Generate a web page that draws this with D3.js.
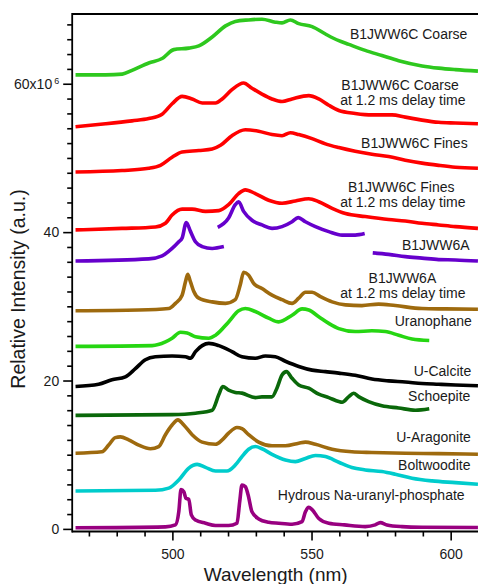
<!DOCTYPE html>
<html>
<head>
<meta charset="utf-8">
<script src="https://cdn.jsdelivr.net/npm/d3@7"></script>
<style>
  body { margin: 0; background: #fff; }
  svg { display: block; }
  text { font-family: Arial, "Liberation Sans", Helvetica, sans-serif; fill: #1a1a1a; }
</style>
</head>
<body>
<svg id="chart" width="478" height="584"></svg>
<script>
// Luminescence spectra, [wavelength (nm), relative intensity (x10^6)], offset vertically per sample.
const coarse = [[465.2,61.2],[476,61.2],[482,61.3],[485.5,61.8],[491.5,62.8],[496.3,63.4],[500.5,64.6],[505.9,64.8],[509.5,65.1],[514.3,66.3],[519.1,67.8],[522.6,68.4],[527.4,68.6],[532.2,68.7],[537.0,68.3],[539.4,68.2],[542.4,68.6],[545.4,68.1],[550.2,67.7],[555.0,66.7],[559.8,65.8],[563.4,65.3],[569.3,64.5],[575.3,63.8],[581.3,63.1],[589.7,62.4],[595.7,62.1],[601.7,61.9],[609.8,61.7]];
const coarseDelay = [[465.2,54.2],[476,54.6],[485.5,55.0],[491.5,55.3],[496.3,55.9],[499.9,57.3],[503.5,58.3],[507.1,57.95],[510.7,57.4],[515.5,57.4],[517.9,57.95],[521.4,59.2],[525.6,60.1],[528.6,59.4],[532.2,58.6],[535.8,57.95],[539.4,57.6],[543.0,57.95],[549.0,58.4],[552.6,57.95],[556.2,57.1],[559.8,56.4],[565.7,56.0],[571.7,55.8],[578.9,55.8],[583.7,55.5],[589.7,55.1],[595.7,54.8],[601.7,54.7],[609.8,54.6]];
const fines = [[465.2,48.1],[481.9,48.3],[491.5,48.6],[495.7,49.0],[499.9,50.1],[503.5,50.8],[509.5,51.0],[514.3,51.2],[517.3,51.7],[521.4,53.0],[526.2,53.8],[531.0,53.6],[535.8,53.15],[539.4,53.0],[542.4,53.4],[545.4,53.15],[550.2,52.6],[555.0,51.9],[559.8,51.4],[565.7,50.9],[571.7,50.5],[577.7,50.2],[583.7,49.7],[589.7,49.3],[595.7,49.0],[601.7,48.75],[609.8,48.6]];
const finesDelay = [[465.2,40.3],[481.9,40.5],[493.9,40.7],[497.5,41.2],[499.9,42.3],[503.5,43.1],[507.1,43.1],[511.9,42.8],[516.7,42.9],[520.2,43.7],[523.8,45.2],[526.2,45.7],[529.8,45.2],[534.6,44.3],[539.4,43.9],[544.2,44.2],[549.0,44.5],[552.6,44.1],[557.4,43.2],[562.2,42.5],[569.3,42.1],[577.7,41.7],[583.7,41.5],[589.7,41.2],[595.7,40.97],[601.7,40.74],[609.8,40.5]];
// B1JWW6A was recorded in three separate windows
const b1jww6aLow = [[465.2,36.1],[491.5,36.4],[496.3,36.8],[499.9,37.8],[502.3,38.7],[503.5,39.2],[505.0,41.3],[506.5,40.1],[508.3,38.7],[510.7,38.05],[514.3,37.8],[518.5,38.05]];
const b1jww6aMid = [[516.3,40.65],[520.2,41.9],[522.6,43.7],[523.8,44.1],[525.6,42.8],[528.6,41.6],[532.2,40.97],[535.8,40.5],[539.4,40.74],[543.0,41.4],[545.2,41.96],[547.8,41.4],[551.4,40.74],[556.2,40.07],[561.0,39.6],[565.7,39.6],[569.1,39.8]];
const b1jww6aHigh = [[572.0,37.2],[577.7,37.0],[583.7,36.7],[589.7,36.5],[595.7,36.3],[601.7,36.25],[609.8,36.1]];
const b1jww6aDelay = [[465.2,29.4],[487.9,29.5],[498.7,29.7],[501.1,30.4],[503.5,31.5],[504.7,33.3],[505.5,34.3],[506.5,33.3],[507.7,32.0],[509.5,31.1],[514.3,30.6],[519.1,30.4],[522.6,30.9],[524.4,32.9],[525.6,34.6],[527.4,34.2],[529.2,33.1],[532.2,32.4],[535.8,31.5],[539.4,30.9],[543.0,30.4],[545.4,31.1],[547.8,31.9],[550.2,31.9],[553.2,31.3],[557.4,30.6],[562.2,30.2],[568.1,30.1],[574.1,30.3],[580.1,30.1],[589.7,29.7],[598.1,29.65],[609.8,29.6]];
const uranophane = [[465.2,24.6],[492.7,24.7],[497.5,25.2],[499.9,25.7],[502.9,26.5],[505.3,26.4],[508.3,25.9],[513.1,25.7],[515.5,26.1],[520.2,27.9],[523.8,29.4],[526.2,29.7],[529.8,29.3],[534.6,28.4],[538.2,27.9],[543.0,28.8],[546.6,29.65],[549.0,29.5],[552.6,28.6],[556.2,27.7],[559.8,27.0],[565.7,26.6],[571.7,26.7],[576.5,26.6],[581.3,26.1],[586.1,25.6],[592.3,25.4]];
const uCalcite = [[465.2,19.2],[473.5,19.5],[478.3,20.1],[483.1,20.5],[486.7,21.6],[490.3,22.8],[493.9,23.2],[499.9,23.3],[504.7,23.2],[506.5,23.0],[508.3,23.9],[513.1,25.0],[516.7,24.7],[521.4,23.9],[525.0,23.2],[529.8,23.0],[533.4,23.3],[537.0,23.2],[540.6,22.6],[545.4,21.9],[550.2,21.4],[555.0,21.2],[559.8,21.0],[565.7,20.7],[571.7,20.2],[577.7,19.95],[583.7,19.8],[589.7,19.6],[595.7,19.5],[601.7,19.4],[609.8,19.3]];
const schoepite = [[465.2,15.3],[499.9,15.4],[508.3,15.6],[514.3,16.0],[516.7,18.1],[518.1,19.2],[520.2,18.7],[522.6,18.4],[525.0,18.3],[529.8,17.7],[532.2,17.8],[535.8,17.8],[537.6,19.0],[539.4,20.75],[541.0,21.2],[543.0,20.3],[545.4,19.4],[549.0,18.96],[552.6,18.15],[556.2,17.7],[559.8,17.16],[561.0,17.07],[563.4,17.83],[565.1,18.28],[566.9,17.83],[570.5,17.16],[575.3,16.6],[581.3,16.3],[587.3,16.0],[592.3,16.2]];
const uAragonite = [[465.2,10.2],[474.7,10.4],[477.1,11.3],[479.5,12.3],[481.3,12.4],[484.3,12.0],[487.9,11.3],[492.1,10.8],[495.1,11.1],[497.5,12.7],[499.9,14.0],[502.0,14.7],[504.1,14.0],[507.1,12.7],[510.7,11.7],[515.5,11.4],[517.9,12.0],[520.2,12.9],[523.2,13.66],[525.0,13.5],[527.4,12.7],[531.0,11.7],[535.8,11.2],[540.6,11.2],[545.4,11.55],[547.8,11.7],[551.4,11.4],[557.4,10.74],[564.5,10.4],[571.7,10.3],[583.7,10.2],[595.7,10.15],[609.8,10.06]];
const boltwoodite = [[465.2,5.1],[493.9,5.2],[498.7,5.5],[502.3,6.6],[505.9,8.2],[508.9,8.7],[511.9,8.3],[515.5,7.8],[519.6,7.8],[522.6,8.6],[525.0,9.75],[527.4,10.74],[529.8,11.1],[532.2,10.8],[535.8,10.06],[540.6,9.3],[544.2,9.07],[547.8,9.5],[551.4,9.9],[555.0,9.75],[559.8,8.98],[564.5,8.27],[569.3,7.95],[575.3,7.73],[580.1,7.37],[586.1,6.83],[593.3,6.47],[601.7,6.24],[609.8,6.02]];
const naUranylPhosphate = [[465.2,0.15],[497.5,0.27],[501.1,0.54],[502.3,2.3],[503.1,5.3],[504.1,5.0],[504.9,4.1],[505.9,4.0],[506.8,1.9],[508.3,1.2],[511.9,0.76],[515.5,0.45],[520.2,0.45],[523.2,0.76],[524.2,3.7],[525.0,5.9],[526.2,5.7],[527.2,4.6],[528.6,2.3],[531.0,1.35],[534.6,0.9],[538.2,0.76],[543.0,0.63],[546.6,0.99],[547.8,2.3],[549.0,2.9],[550.2,2.6],[552.6,1.4],[556.2,0.76],[561.8,0.54],[569.3,0.31],[572.9,0.54],[574.7,0.85],[577.1,0.54],[582.5,0.31],[589.7,0.22],[609.8,0.18]];

// Axis ticks
const xMajorTicks = [500, 550, 600];
const xMinorTicks = [470, 480, 490, 510, 520, 530, 540, 560, 570, 580, 590];
const yMajorTicks = [0, 20, 40, 60];
const yMinorTicks = d3.range(2, 69, 2).filter(v => v % 20 !== 0);

// Sample labels: lines of text anchored at (wavelength, intensity)
const sampleLabels = [
  { lines: ["B1JWW6C Coarse"], at: [[563.8, 66.0]] },
  { lines: ["B1JWW6C Coarse", "at 1.2 ms delay time"], at: [[560.7, 59.16], [560.3, 57.14]] },
  { lines: ["B1JWW6C Fines"], at: [[567.8, 51.35]] },
  { lines: ["B1JWW6C Fines", "at 1.2 ms delay time"], at: [[563.1, 45.42], [560.3, 43.4]] },
  { lines: ["B1JWW6A"], at: [[582.5, 37.6]] },
  { lines: ["B1JWW6A", "at 1.2 ms delay time"], at: [[570.5, 33.15], [560.3, 31.13]] },
  { lines: ["Uranophane"], at: [[579.9, 27.36]] },
  { lines: ["U-Calcite"], at: [[586.7, 20.62]] },
  { lines: ["Schoepite"], at: [[584.7, 17.25]] },
  { lines: ["U-Aragonite"], at: [[580.4, 11.66]] },
  { lines: ["Boltwoodite"], at: [[581.1, 7.95]] },
  { lines: ["Hydrous Na-uranyl-phosphate"], at: [[537.9, 3.91]] }
];

const series = [
  { segments: [coarse], color: "#2ec81e" },
  { segments: [coarseDelay], color: "#ff0000" },
  { segments: [fines], color: "#ff0000" },
  { segments: [finesDelay], color: "#ff0000" },
  { segments: [b1jww6aLow, b1jww6aMid, b1jww6aHigh], color: "#6600cc" },
  { segments: [b1jww6aDelay], color: "#9e6a0e" },
  { segments: [uranophane], color: "#26d612" },
  { segments: [uCalcite], color: "#000000" },
  { segments: [schoepite], color: "#0a680a" },
  { segments: [uAragonite], color: "#9e6a0e" },
  { segments: [boltwoodite], color: "#00cccc" },
  { segments: [naUranylPhosphate], color: "#980080" }
];

const svg = d3.select("#chart");
const W = 478;
const plotLeft = 72.2, plotTop = 14, plotBottom = 531.5;

const x = d3.scaleLinear().domain([464, 610]).range([plotLeft, 478.5]);
const y = d3.scaleLinear().domain([-0.35, 69.4]).range([plotBottom, plotTop]);

svg.append("defs").append("clipPath").attr("id", "plotClip")
  .append("rect").attr("x", plotLeft).attr("y", plotTop)
  .attr("width", W - plotLeft).attr("height", plotBottom - plotTop);

// Spectra
const line = d3.line().x(d => x(d[0])).y(d => y(d[1])).curve(d3.curveMonotoneX);
const curves = svg.append("g").attr("clip-path", "url(#plotClip)");
series.forEach(s => {
  s.segments.forEach(seg => {
    curves.append("path")
      .attr("d", line(seg))
      .attr("fill", "none")
      .attr("stroke", s.color)
      .attr("stroke-width", 3.6)
      .attr("stroke-linejoin", "round")
      .attr("stroke-linecap", "butt");
  });
});

// Axes
function styleAxis(g) {
  g.select(".domain").remove();
  g.selectAll(".tick line").attr("stroke", "#000").attr("stroke-width", 1.6);
  g.selectAll(".tick text").style("font-size", "14px").attr("fill", "#1a1a1a");
}

svg.append("g").attr("transform", `translate(0,${plotBottom})`)
  .call(d3.axisBottom(x).tickValues(xMinorTicks).tickSize(5).tickFormat(""))
  .call(styleAxis);
svg.append("g").attr("transform", `translate(0,${plotBottom})`)
  .call(d3.axisBottom(x).tickValues(xMajorTicks).tickSize(9).tickPadding(9).tickFormat(d3.format("d")))
  .call(styleAxis);

svg.append("g").attr("transform", `translate(${plotLeft},0)`)
  .call(d3.axisLeft(y).tickValues(yMinorTicks).tickSize(5).tickFormat(""))
  .call(styleAxis);
const yMajor = svg.append("g").attr("transform", `translate(${plotLeft},0)`)
  .call(d3.axisLeft(y).tickValues(yMajorTicks).tickSize(9).tickPadding(4).tickFormat(d3.format("d")))
  .call(styleAxis);

// Top tick carries the scale factor: 60x10^6
yMajor.selectAll(".tick text").filter(d => d === 60).each(function () {
  const t = d3.select(this).text("").attr("x", -13);
  t.append("tspan").text("60x10");
  t.append("tspan").text("6").attr("dx", 2).attr("dy", "-0.55em").style("font-size", "9px");
});

// Frame lines
const frame = svg.append("g").attr("stroke", "#000").attr("stroke-width", 1.8).attr("fill", "none");
frame.append("line").attr("x1", plotLeft).attr("x2", plotLeft).attr("y1", plotTop - 0.9).attr("y2", plotBottom + 0.9);
frame.append("line").attr("x1", plotLeft).attr("x2", W).attr("y1", plotTop).attr("y2", plotTop);
frame.append("line").attr("x1", plotLeft).attr("x2", W).attr("y1", plotBottom).attr("y2", plotBottom);

// Axis titles
svg.append("text")
  .attr("transform", `translate(25,289) rotate(-90)`)
  .attr("text-anchor", "middle")
  .style("font-size", "19.5px")
  .text("Relative Intensity (a.u.)");
svg.append("text")
  .attr("x", 275.7).attr("y", 580.5)
  .attr("text-anchor", "middle")
  .style("font-size", "19px")
  .text("Wavelength (nm)");

// Sample labels
const labels = svg.append("g").style("font-size", "14px");
sampleLabels.forEach(l => {
  l.lines.forEach((txt, i) => {
    labels.append("text")
      .attr("x", x(l.at[i][0]))
      .attr("y", y(l.at[i][1]))
      .text(txt);
  });
});
</script>
</body>
</html>
